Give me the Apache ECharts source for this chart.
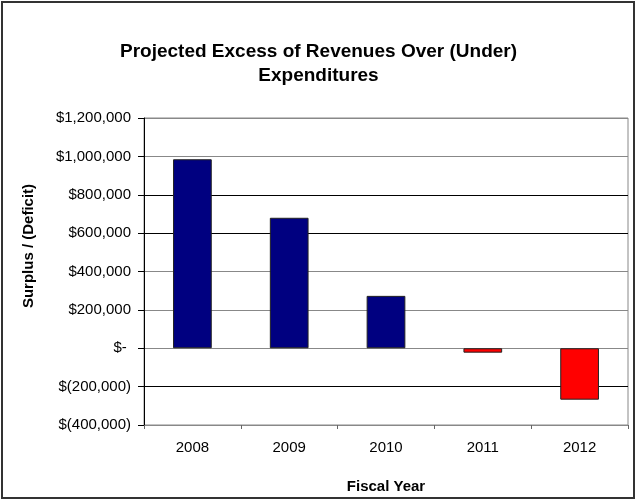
<!DOCTYPE html>
<html>
<head>
<meta charset="utf-8">
<script src="https://cdn.jsdelivr.net/npm/echarts@6/dist/echarts.min.js"></script>
<style>
  html, body { margin: 0; padding: 0; background: #fff; }
  #chart { width: 637px; height: 501px; }
</style>
</head>
<body>
<div id="chart"></div>
<script>
// Fiscal years and the projected surplus / (deficit) for each
const fiscalYears = ['2008', '2009', '2010', '2011', '2012'];
const surplusDeficit = [985000, 680000, 273000, -23000, -268000];

// Value axis range
const yMin = -400000;
const yMax = 1200000;
const yStep = 200000;

const FONT = '"Liberation Sans", Arial, sans-serif';

function money(v) {
  if (v === 0) return '$- ';
  const s = Math.abs(v).toLocaleString('en-US');
  return v < 0 ? '$(' + s + ')' : '$' + s;
}

const chart = echarts.init(document.getElementById('chart'), null, { renderer: 'canvas' });

chart.setOption({
  backgroundColor: '#fff',
  animation: false,
  title: {
    text: 'Projected Excess of Revenues Over (Under)\nExpenditures',
    left: 'center',
    top: 35,
    textStyle: { fontFamily: FONT, fontSize: 19, fontWeight: 'bold', color: '#000', lineHeight: 24 }
  },
  graphic: [{
    type: 'rect',
    shape: { x: 2, y: 2, width: 632, height: 496 },
    style: { fill: 'none', stroke: '#333', lineWidth: 2 },
    silent: true
  }, {
    // value axis title
    type: 'text',
    x: 29,
    y: 246,
    rotation: Math.PI / 2,
    style: {
      text: 'Surplus / (Deficit)',
      font: 'bold 15px ' + FONT,
      fill: '#000',
      align: 'center',
      verticalAlign: 'middle'
    },
    silent: true
  }],
  grid: {
    left: 144, right: 9, top: 118, bottom: 76,
    show: true, borderColor: '#888', borderWidth: 1, backgroundColor: '#fff'
  },
  xAxis: [{
    type: 'category',
    data: fiscalYears,
    position: 'bottom',
    axisLine: { show: false },
    axisTick: { show: false },
    axisLabel: { fontFamily: FONT, fontSize: 15, color: '#000', margin: 15 },
    name: 'Fiscal Year',
    nameLocation: 'middle',
    nameGap: 54,
    nameTextStyle: { fontFamily: FONT, fontSize: 15, fontWeight: 'bold', color: '#000' }
  }, {
    type: 'category',
    data: fiscalYears,
    position: 'bottom',
    axisLine: { show: true, onZero: true, lineStyle: { color: '#888', width: 1 } },
    axisTick: { show: true, inside: false, length: 4, lineStyle: { color: '#666' } },
    axisLabel: { show: false }
  }],
  yAxis: {
    type: 'value',
    min: yMin, max: yMax, interval: yStep,
    axisLine: { show: true, onZero: false, lineStyle: { color: '#000', width: 1 } },
    axisTick: { show: true, inside: false, length: 6, lineStyle: { color: '#000' } },
    splitLine: {
      show: true,
      lineStyle: { color: ['#888', '#000', '#888', '#888', '#888', '#000', '#000', '#888', '#888'], width: 1 }
    },
    axisLabel: { fontFamily: FONT, fontSize: 15, color: '#000', margin: 13, formatter: money }
  },
  series: [{
    type: 'bar',
    xAxisIndex: 0,
    data: surplusDeficit,
    barWidth: '40%',
    itemStyle: {
      color: p => (p.value < 0 ? '#ff0000' : '#000080'),
      borderColor: '#222',
      borderWidth: 1
    }
  }]
});
</script>
</body>
</html>
